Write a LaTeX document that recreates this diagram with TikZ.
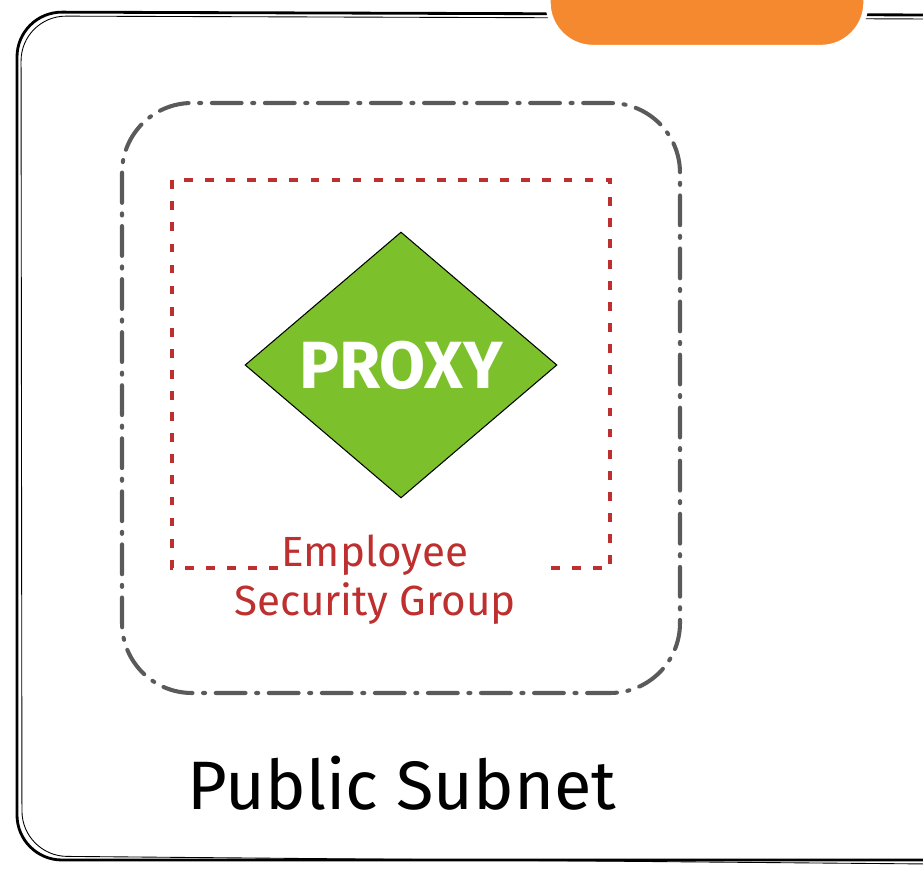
\documentclass[tikz,border=0pt]{standalone}
\usepackage{fontspec}
\setmainfont{Fira Sans}
\usepackage{tikz}
\usetikzlibrary{shapes.geometric, positioning}
\definecolor{colorGris}{HTML}{5A5A5A}
\definecolor{colorRojo}{HTML}{BE2F2F}
\definecolor{colorVerde}{HTML}{7CC12B}
\definecolor{colorNaranja}{HTML}{F5892F}

\begin{document}
\begin{tikzpicture}[x=0.02cm, y=-0.02cm,
        marco/.style={draw=black, line width=1.6pt, rounded corners=0.9cm},
        subred/.style={draw=colorGris, line width=2.3pt, rounded corners=1.4cm, line cap=round,
            dash pattern=on 17pt off 6pt on 1.2pt off 6pt},
        grupo/.style={draw=colorRojo, line width=2.2pt, dash pattern=on 5pt off 7pt},
        proxy/.style={diamond, draw=black, line width=0.6pt, fill=colorVerde,
            minimum width=6.24cm, minimum height=5.32cm, inner sep=0pt},
        etq/.style={font=\fontsize{24}{28}\selectfont, text=colorRojo, align=center,
            inner sep=4pt}]
        \useasboundingbox (0,0) rectangle (923,871);
        % caja exterior (VPC)
        \draw[marco] (930,15) -- (17,12) -- (17,860) -- (930,860);
        \draw[line width=0.5pt, rounded corners=0.9cm] (930,19) -- (21,16) -- (22,856) -- (930,864);
        \node[draw=white, line width=3pt, fill=colorNaranja, rounded corners=0.9cm,
            minimum width=6.36cm, minimum height=2.5cm] (vpc) at (707,-15) {};
        % subred publica
        \draw[subred] (122,103) rectangle (680,693);
        % grupo de seguridad
        \draw[grupo] (278,568) -- (172,568) -- (172,180) -- (610,180) -- (610,568) -- (545,568);
        \node[proxy] (px) at (401,365) {};
        \node[font=\bfseries\fontsize{38}{40}\selectfont, text=white] (pxt) at (px) {PROXY};
        \node[etq] (sg) at (375,580) {Employee\\Security Group};
        \node[font=\fontsize{39}{42}\selectfont] (pub) at (402,783) {Public Subnet};
    \end{tikzpicture}
\end{document}
